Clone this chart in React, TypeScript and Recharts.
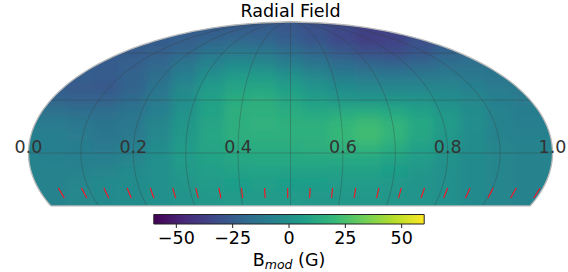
import React from 'react';
import { ScatterChart, Scatter, XAxis, YAxis, ReferenceArea } from 'recharts';

const W = 568, H = 272;
const columnLevels = [-1,-0.9,-0.8,-0.7,-0.6,-0.5,-0.4,-0.3,-0.2,-0.1,0,0.1,0.2,0.3,0.4,0.5,0.6,0.7,0.8,0.9,1];
const rowLevels = [1.04,0.95,0.855,0.763,0.672,0.58,0.489,0.397,0.305,0.214,0.122,0.031,-0.061,-0.153,-0.244,-0.336,-0.427];
const fieldRows = [
[-24,-24,-24,-24,-24,-24,-25,-25,-25,-25,-27,-30,-33,-36,-36,-34,-30,-28,-26,-24,-24],
[-24,-24,-24,-24,-24,-24,-25,-25,-25,-25,-27,-30,-33,-36,-36,-34,-30,-28,-26,-24,-24],
[-24,-24,-24,-25,-25,-25,-24,-22,-20,-21,-24,-28,-33,-38,-36,-30,-26,-24,-22,-22,-22],
[-24,-25,-25,-25,-25,-23,-20,-14,-11,-12,-17,-21,-26,-30,-31,-28,-22,-20,-18,-18,-18],
[-24,-25,-25,-25,-23,-20,-13,-6,-3,-4,-8,-13,-18,-21,-22,-20,-17,-15,-15,-15,-15],
[-24,-24,-24,-25,-22,-17,-8,0,5,5,1,-4,-9,-11,-12,-12,-11,-12,-14,-14,-14],
[-24,-25,-26,-27,-22,-14,-4,5,10,11,7,2,-2,-4,-5,-5,-5,-7,-10,-12,-13],
[-20,-21,-22,-22,-18,-11,-1,8,14,15,11,7,4,3,3,2,-1,-4,-8,-10,-10],
[-14,-15,-17,-17,-14,-8,1,9,15,16,14,12,13,14,12,8,3,-2,-6,-9,-10],
[-9,-10,-12,-14,-12,-5,3,10,15,17,16,16,19,22,18,12,5,-1,-6,-8,-8],
[-8,-8,-10,-13,-11,-4,4,11,15,16,16,16,20,23,18,11,4,-2,-6,-7,-7],
[-7,-8,-9,-11,-8,-2,5,10,13,14,14,15,17,18,14,8,3,-2,-5,-6,-6],
[-6,-7,-8,-8,-5,0,5,9,11,12,12,12,12,12,9,5,1,-3,-5,-6,-6],
[-6,-6,-6,-5,-3,0,4,7,9,9,9,9,8,8,6,3,0,-3,-5,-6,-6],
[-6,-6,-5,-3,-2,0,3,5,6,7,6,6,5,5,4,2,0,-3,-5,-6,-6],
[-6,-6,-4,-3,-2,0,2,4,5,5,5,4,4,4,3,2,0,-3,-5,-6,-6],
[-6,-6,-4,-3,-2,0,2,4,5,5,5,4,4,4,3,2,0,-3,-5,-6,-6],
];
const meridianLons = [-144,-108,-72,-36,0,36,72,108,144];
const parallelLats = [0,30,60];
const southEdgeLat = -30;
const tickLons = [-165.5,-149,-133,-116.5,-100,-84,-67.5,-51,-35,-18.5,-2,14,30,46.5,63,79,95.5,112,128,144.5,161,178];
const tickLats = [-19.6,-25.4];
const axisLabels = ['0.0','0.2','0.4','0.6','0.8','1.0'];
const axisLabelLevels = [-1,-0.6,-0.2,0.2,0.6,1];
const colorTicks = [-50,-25,0,25,50];
const colorEnds = [-60,60];
const viridis = ['#440154','#482878','#3e4989','#31688e','#26828e','#1f9e89','#35b779','#6ece58','#b5de2b','#fde725'];

const hex = (c: string) => [1, 3, 5].map((i) => parseInt(c.slice(i, i + 2), 16));
const colorOf = (v: number) => {
  const t = Math.max(0, Math.min(1, (v + 60) / 120)) * (viridis.length - 1);
  const i = Math.min(viridis.length - 2, Math.floor(t));
  const a = hex(viridis[i]), b = hex(viridis[i + 1]);
  const m = a.map((x, k) => Math.round(x + (b[k] - x) * (t - i)));
  return `rgb(${m[0]},${m[1]},${m[2]})`;
};
const project = (lon: number, lat: number) => {
  const phi = (lat * Math.PI) / 180;
  let th = phi;
  for (let i = 0; i < 30; i++) {
    const d = 2 + 2 * Math.cos(2 * th);
    if (Math.abs(d) < 1e-6) break;
    th -= (2 * th + Math.sin(2 * th) - Math.PI * Math.sin(phi)) / d;
  }
  return { x: (lon / 180) * Math.cos(th), y: Math.sin(th) };
};
const steps = (a: number, b: number, n: number) => Array.from({ length: n + 1 }, (_, i) => a + ((b - a) * i) / n);
const cells = fieldRows.flatMap((row, r) => row.map((v, c) => ({ x: columnLevels[c], y: rowLevels[r], v })));
const meridians = meridianLons.map((lon) => steps(southEdgeLat, 90, 60).map((lat) => project(lon, lat)));
const parallels = parallelLats.map((lat) => steps(-180, 180, 2).map((lon) => project(lon, lat)));
const outline = [
  ...steps(southEdgeLat, 89.9, 70).map((lat) => project(-180, lat)),
  ...steps(89.9, southEdgeLat, 70).map((lat) => project(180, lat)),
  project(-180, southEdgeLat),
];
const ticks = tickLons.map((lon) => tickLats.map((lat) => project(lon, lat)));
const labelPts = axisLabels.map((t, i) => ({ x: axisLabelLevels[i], y: 0.046, t }));
const colorPts = colorEnds.map((x) => ({ x, y: 0.5 }));

const xDomain: [number, number] = [-290.5 / 262, (568 - 290.5) / 262];
const yDomain: [number, number] = [(153 - 272) / 131, 153 / 131];

const noShape = () => <g />;
const cellShape = (p: any) => (
  <rect x={p.cx - 14} y={p.cy - 7} width={28} height={14} fill={colorOf(p.payload.v)} stroke="none" />
);
const labelShape = (p: any) => (
  <text x={p.cx} y={p.cy} textAnchor="middle" dominantBaseline="central" fontSize={17.5} fill="#333" fontFamily="DejaVu Sans">
    {p.payload.t}
  </text>
);
const ellipsePath = 'M' + outline.map((q) => `${290.5 + q.x * 262} ${153 - q.y * 131}`).join('L') + 'Z';

export default function App() {
  return (
    <div style={{ position: 'absolute', left: 0, top: 0, width: W, height: H, fontFamily: 'DejaVu Sans' }}>
      <style>{`.field{filter:url(#soft);clip-path:url(#globe)}`}</style>
      <div style={{ position: 'absolute', left: 0, top: 0 }}>
        <ScatterChart width={W} height={H} margin={{ top: 0, right: 0, bottom: 0, left: 0 }}>
          <defs>
            <clipPath id="globe"><path d={ellipsePath} /></clipPath>
            <filter id="soft" x="-5%" y="-5%" width="110%" height="110%"><feGaussianBlur stdDeviation="5" /></filter>
          </defs>
          <XAxis type="number" dataKey="x" domain={xDomain} hide allowDataOverflow />
          <YAxis type="number" dataKey="y" domain={yDomain} hide allowDataOverflow />
          <Scatter className="field" data={cells} shape={cellShape} isAnimationActive={false} />
          {meridians.map((m, i) => (
            <Scatter key={'m' + i} data={m} shape={noShape} line={{ stroke: '#3a3a3a', strokeOpacity: 0.33, strokeWidth: 1 }} isAnimationActive={false} />
          ))}
          {parallels.map((m, i) => (
            <Scatter key={'p' + i} data={m} shape={noShape} line={{ stroke: '#3a3a3a', strokeOpacity: 0.33, strokeWidth: 1 }} isAnimationActive={false} />
          ))}
          <Scatter data={outline} shape={noShape} line={{ stroke: '#b8b8b8', strokeWidth: 1.3 }} isAnimationActive={false} />
          {ticks.map((m, i) => (
            <Scatter key={'t' + i} data={m} shape={noShape} line={{ stroke: '#ff1020', strokeWidth: 1.1 }} isAnimationActive={false} />
          ))}
          <Scatter data={labelPts} shape={labelShape} isAnimationActive={false} />
          <text x={290.5} y={16.5} textAnchor="middle" fontSize={17.5} fill="#000" fontFamily="DejaVu Sans">Radial Field</text>
        </ScatterChart>
      </div>
      <div style={{ position: 'absolute', left: 0, top: 0 }}>
        <ScatterChart width={W} height={H} margin={{ top: 214.5, right: 143.8, bottom: 18, left: 153.8 }}>
          <defs>
            <linearGradient id="vir" x1="0" y1="0" x2="1" y2="0">
              {viridis.map((c, i) => <stop key={c} offset={i / (viridis.length - 1)} stopColor={c} />)}
            </linearGradient>
          </defs>
          <XAxis
            type="number" dataKey="x" domain={[-60, 60]} ticks={colorTicks} interval={0} height={30}
            axisLine={false} tickLine={{ stroke: '#222' }} tickSize={4} tickMargin={4}
            tick={{ fontSize: 17.5, fill: '#000', fontFamily: 'DejaVu Sans' }}
            tickFormatter={(v: number) => String(v).replace('-', '\u2212')}
          />
          <YAxis type="number" dataKey="y" domain={[0, 1]} hide />
          <Scatter data={colorPts} shape={noShape} isAnimationActive={false} />
          <ReferenceArea x1={-60} x2={60} y1={0} y2={1} fill="url(#vir)" fillOpacity={1} stroke="#222" strokeWidth={1} />
          <text x={289} y={266} textAnchor="middle" fontSize={17.5} fill="#000" fontFamily="DejaVu Sans">
            B<tspan fontStyle="italic" fontSize={12.5} dy={3}>mod</tspan><tspan dy={-3}> (G)</tspan>
          </text>
        </ScatterChart>
      </div>
    </div>
  );
}
